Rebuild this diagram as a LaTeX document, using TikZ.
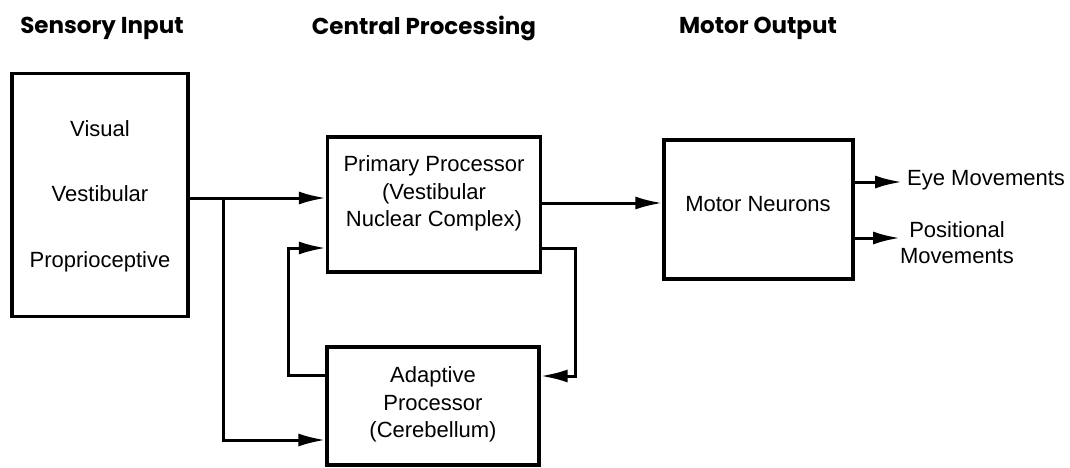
\documentclass[tikz,border=0pt]{standalone}
\usepackage{fontspec}
\setmainfont{Liberation Sans}
\newfontfamily\headfont{Poppins}
\usetikzlibrary{arrows.meta}
\begin{document}
\begin{tikzpicture}[x=1pt,y=-1pt,
  box/.style={draw, line width=3.2pt, inner sep=0pt},
  conn/.style={line width=3pt},
  arr/.style={conn, -{Latex[length=27pt,width=13pt]}},
  lbl/.style={font=\fontsize{22}{27.5}\selectfont, align=center, inner sep=0pt},
  head/.style={font=\headfont\bfseries\fontsize{23}{26}\selectfont, inner sep=0pt}]
\useasboundingbox (0,0) rectangle (1070,468);
% headers
\node[head] (h1) at (102,28) {Sensory Input};
\node[head] (h2) at (424,28) {Central Processing};
\node[head] (h3) at (758,28) {Motor Output};
% boxes
\node[box, minimum width=176pt, minimum height=243pt] (sens) at (100,195) {};
\node[lbl] (senst) at (100,196) {Visual\\[38pt]Vestibular\\[38pt]Proprioceptive};
\node[box, minimum width=213pt, minimum height=135pt] (prim) at (434,204.5) {};
\node[lbl] (primt) at (434,193.5) {Primary Processor\\(Vestibular\\Nuclear Complex)};
\node[box, minimum width=212pt, minimum height=118pt] (adap) at (433,406) {};
\node[lbl] (adapt) at (433,404.5) {Adaptive\\Processor\\(Cerebellum)};
\node[box, minimum width=189pt, minimum height=139pt] (mot) at (758.5,209.5) {};
\node[lbl] (mott) at (758,204) {Motor Neurons};
% output labels
\node[lbl, anchor=west] (eyet) at (907,180) {Eye Movements};
\node[lbl, font=\fontsize{22}{26}\selectfont] (post) at (957,243) {Positional\\Movements};
% connectors
\coordinate (j) at (223,198);
\coordinate (jb) at (223,440);
\coordinate (fl) at (288,375);
\coordinate (flt) at (288,248);
\coordinate (fr) at (575,248);
\coordinate (frb) at (575,376);
\coordinate (eye) at (902,182);
\coordinate (pos) at (900,238);
\draw[arr] (sens.east |- j) -- (prim.west |- j);
\draw[arr] (j) -- (jb) -- (adap.west |- jb);
\draw[arr] (adap.west |- fl) -- (fl) -- (flt) -- (prim.west |- flt);
\draw[arr] (prim.east |- fr) -- (fr) -- (frb) -- (adap.east |- frb);
\draw[arr] (prim.east |- 0,203) -- (mot.west |- 0,203);
\draw[arr] (mot.east |- eye) -- (eye);
\draw[arr] (mot.east |- pos) -- (pos);
\end{tikzpicture}
\end{document}
